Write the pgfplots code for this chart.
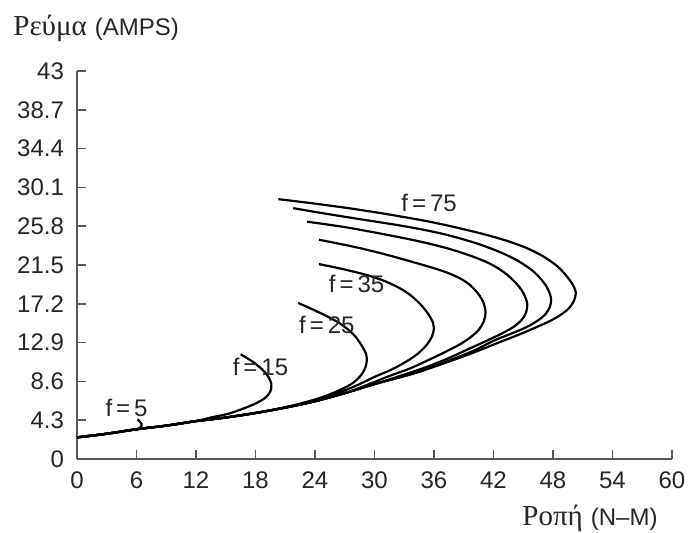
\documentclass[border=0pt]{standalone}
\usepackage{fontspec}
\setmainfont{Liberation Sans}
\newfontfamily\grk{Liberation Serif}
\usepackage{pgfplots}
\pgfplotsset{compat=1.18}

\begin{document}
\begin{tikzpicture}
\useasboundingbox (-38.5pt,-36.5pt) rectangle (306pt,229.5pt);
\begin{axis}[
  scale only axis,
  width=297.5pt, height=194pt,
  xmin=0, xmax=60, ymin=0, ymax=43,
  axis lines=left,
  axis line style={-, draw=black!65, line width=0.8pt},
  tick style={draw=black!65, line width=0.8pt},
  tick align=inside,
  major tick length=4.5pt,
  xtick={0,6,12,18,24,30,36,42,48,54,60},
  ytick={0,4.3,8.6,12.9,17.2,21.5,25.8,30.1,34.4,38.7,43},
  yticklabels={0,4.3,8.6,12.9,17.2,21.5,25.8,30.1,34.4,38.7,43},
  /pgf/number format/assume math mode=true,
  tick label style={font=\fontsize{12}{14}\selectfont, text=black!85},
  xticklabel style={yshift=-3pt},
  yticklabel style={xshift=-3pt},
  clip=false,
  curve/.style={black, solid, line width=1.1pt, smooth, tension=0.55, mark=none},
]
% f = 75
\addplot[curve] coordinates {(20.3,28.8) (24,28.3) (28,27.7) (32,27.0) (36,26.2) (40,25.2) (43,24.3) (45.3,23.4) (47.1,22.4) (48.5,21.3) (49.5,20.1) (50.1,19.1) (50.3,18.4) (50.1,17.5) (49.6,16.7) (48.8,16.0) (47.7,15.3) (46.3,14.6) (44.6,13.8) (42.5,12.9) (40,11.8) (37,10.6) (34,9.5) (30,8.3) (27,7.3) (24,6.4) (21,5.7) (18,5.1) (15,4.6) (12,4.2) (9,3.7) (6,3.3) (3,2.8) (0,2.4)};
% f = 65
\addplot[curve] coordinates {(21.8,27.8) (25,27.2) (29,26.5) (33,25.8) (36.7,25.0) (40,24.0) (42.5,23.0) (44.4,22.0) (45.9,20.9) (46.9,19.8) (47.5,18.8) (47.8,17.8) (47.7,16.9) (47.2,16.0) (46.4,15.3) (45.3,14.6) (43.8,13.9) (42,13.1) (40,12.0) (37,10.7) (34,9.5) (30,8.3) (27,7.3) (24,6.4) (21,5.7) (18,5.1) (15,4.6) (12,4.2) (9,3.7) (6,3.3) (3,2.8) (0,2.4)};
% f = 55
\addplot[curve] coordinates {(23.2,26.3) (27,25.7) (31,24.9) (34.6,24.1) (37.5,23.3) (40,22.4) (41.9,21.5) (43.4,20.4) (44.5,19.2) (45.1,18.2) (45.4,17.2) (45.3,16.3) (44.9,15.5) (44.1,14.7) (43,14.0) (41.5,13.2) (39.5,12.2) (37.3,11.1) (35,10.1) (32,9.0) (30,8.3) (27,7.3) (24,6.4) (21,5.7) (18,5.1) (15,4.6) (12,4.2) (9,3.7) (6,3.3) (3,2.8) (0,2.4)};
% f = 45
\addplot[curve] coordinates {(24.4,24.3) (28,23.5) (31,22.7) (34.6,21.6) (36.7,20.9) (38.3,20.2) (39.5,19.4) (40.4,18.4) (41.0,17.3) (41.2,16.2) (41.0,15.2) (40.5,14.3) (39.7,13.5) (38.6,12.7) (37.2,11.9) (35.5,11.0) (33.5,10.0) (31.5,9.2) (29,8.1) (27,7.3) (24,6.4) (21,5.7) (18,5.1) (15,4.6) (12,4.2) (9,3.7) (6,3.3) (3,2.8) (0,2.4)};
% f = 35
\addplot[curve] coordinates {(24.4,21.6) (27,21.0) (29.5,20.3) (31.5,19.5) (33.2,18.5) (34.5,17.3) (35.4,16.1) (35.9,15.1) (36.0,14.5) (35.8,13.6) (35.3,12.7) (34.4,11.7) (33.2,10.8) (31.7,9.9) (30,9.1) (28.3,8.2) (26.5,7.4) (24,6.5) (21,5.7) (18,5.1) (15,4.6) (12,4.2) (9,3.7) (6,3.3) (3,2.8) (0,2.4)};
% f = 25
\addplot[curve] coordinates {(22.3,17.3) (24.5,16.2) (26.4,15.1) (27.8,13.9) (28.7,12.6) (29.2,11.4) (29.1,10.2) (28.5,9.1) (27.5,8.2) (26,7.4) (24.3,6.7) (22,6.0) (20,5.5) (18,5.1) (15,4.6) (12,4.2) (9,3.7) (6,3.3) (3,2.8) (0,2.4)};
% f = 15
\addplot[curve] coordinates {(16.5,11.6) (17.7,10.8) (18.7,9.9) (19.3,9.1) (19.6,8.3) (19.5,7.5) (19.0,6.8) (18.1,6.2) (16.8,5.6) (15.2,5.0) (13.5,4.6) (12,4.2) (9,3.7) (6,3.3) (3,2.8) (0,2.4)};
% f = 5
\addplot[curve] coordinates {(6.1,4.4) (6.5,3.9) (6.4,3.5) (6.0,3.3) (3,2.8) (0,2.4)};

\begin{scope}[every node/.style={font=\fontsize{12}{14}\selectfont, text=black!85, inner sep=0pt}]
\node at (axis cs:35.5,28.4) {f\,=\,75};
\node at (axis cs:28.2,19.4) {f\,=\,35};
\node at (axis cs:25.2,14.9) {f\,=\,25};
\node at (axis cs:18.5,10.2) {f\,=\,15};
\node at (axis cs:5.0,5.7) {f\,=\,5};
\end{scope}
\end{axis}
\node[anchor=base west, inner sep=0pt, text=black!85] at (-32pt,212pt)
  {{\grk\fontsize{14.5}{16}\selectfont Ρεύμα}\hspace{4pt}{\fontsize{12}{14}\selectfont (AMPS)}};
\node[anchor=base west, inner sep=0pt, text=black!85] at (222.5pt,-33pt)
  {{\grk\fontsize{14.5}{16}\selectfont Ροπή}\hspace{4pt}{\fontsize{12}{14}\selectfont (N--M)}};
\end{tikzpicture}
\end{document}
